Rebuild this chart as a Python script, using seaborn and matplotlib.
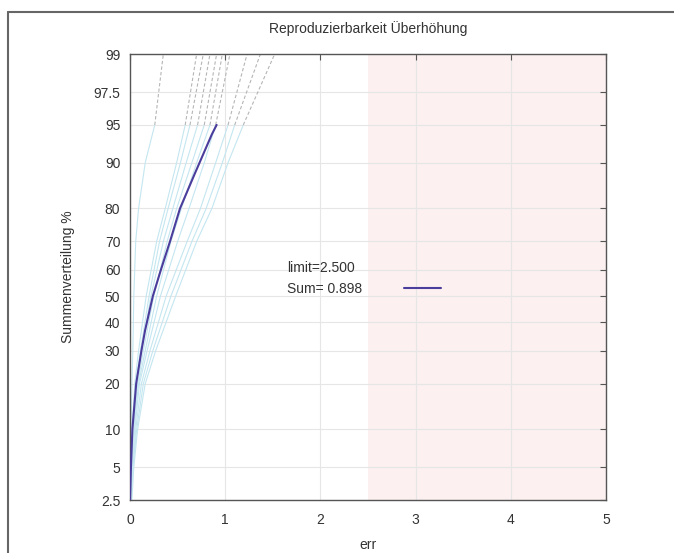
import numpy as np
import pandas as pd
import matplotlib
matplotlib.use("Agg")
import matplotlib.pyplot as plt
import seaborn as sns
from statistics import NormalDist
from matplotlib.lines import Line2D

# ---------------- data ----------------
P_LEVELS = [2.5, 5, 10, 20, 30, 50, 70, 80, 90, 95, 99]
run01 = [0.00, 0.00, 0.01, 0.02, 0.03, 0.04, 0.06, 0.09, 0.16, 0.26, 0.35]
run02 = [0.00, 0.01, 0.02, 0.05, 0.09, 0.17, 0.28, 0.37, 0.49, 0.58, 0.70]
run03 = [0.00, 0.01, 0.03, 0.06, 0.11, 0.20, 0.31, 0.40, 0.53, 0.63, 0.77]
run04 = [0.00, 0.01, 0.03, 0.07, 0.12, 0.22, 0.35, 0.45, 0.59, 0.71, 0.84]
run05 = [0.00, 0.02, 0.04, 0.08, 0.14, 0.25, 0.39, 0.49, 0.65, 0.78, 0.91]
run06 = [0.01, 0.02, 0.04, 0.09, 0.16, 0.28, 0.43, 0.54, 0.70, 0.84, 0.97]
run07 = [0.01, 0.02, 0.05, 0.10, 0.18, 0.32, 0.50, 0.62, 0.78, 0.90, 1.05]
run08 = [0.01, 0.03, 0.06, 0.12, 0.21, 0.38, 0.60, 0.74, 0.90, 1.03, 1.23]
run09 = [0.01, 0.03, 0.07, 0.14, 0.24, 0.43, 0.65, 0.80, 0.97, 1.10, 1.37]
run10 = [0.02, 0.04, 0.08, 0.16, 0.27, 0.48, 0.70, 0.86, 1.03, 1.19, 1.52]
RUNS = [run01, run02, run03, run04, run05, run06, run07, run08, run09, run10]

sum_p = [2.5, 5, 10, 20, 30, 37, 50, 60, 70, 80, 88, 94, 95]
sum_x = [0.00, 0.01, 0.025, 0.065, 0.12, 0.158, 0.24, 0.325, 0.42, 0.525, 0.68, 0.86, 0.91]

Y_TICKS = [2.5, 5, 10, 20, 30, 40, 50, 60, 70, 80, 90, 95, 97.5, 99]
X_TICKS = [0, 1, 2, 3, 4, 5]
LIMIT = 2.5
SUM_VALUE = 0.898
TITLE = "Reproduzierbarkeit Überhöhung"
XLABEL = "err"
YLABEL = "Summenverteilung %"

# ---------------- style ----------------
sns.set_style("white")
plt.rcParams["font.family"] = ["Liberation Sans", "DejaVu Sans"]
TXT = "#333333"

nd = NormalDist()
_ppf = np.vectorize(nd.inv_cdf, otypes=[float])
_cdf = np.vectorize(nd.cdf, otypes=[float])


def fwd(p):
    p = np.clip(np.asarray(p, dtype=float) / 100.0, 1e-9, 1 - 1e-9)
    return _ppf(p)


def inv(z):
    return _cdf(np.asarray(z, dtype=float)) * 100.0


fig = plt.figure(figsize=(6.74, 5.53), dpi=100)
ax = fig.add_axes([130 / 674, 1 - 500 / 553, 476 / 674, 446 / 553])
ax.set_yscale("function", functions=(fwd, inv))

# limit region
ax.axvspan(LIMIT, X_TICKS[-1], color="#fcf0f0", lw=0, zorder=0)

# background runs
for i, r in enumerate(RUNS):
    lo = pd.DataFrame({"x": r[:-1], "p": P_LEVELS[:-1]})
    hi = pd.DataFrame({"x": r[-2:], "p": P_LEVELS[-2:]})
    sns.lineplot(data=lo, x="x", y="p", sort=False, estimator=None, ax=ax,
                 color="#c4e6f0", lw=0.8, label="_nolegend_", zorder=2)
    sns.lineplot(data=hi, x="x", y="p", sort=False, estimator=None, ax=ax,
                 color="#b5b5b5", lw=0.8, ls=(0, (3, 2)), label="_nolegend_", zorder=2)

# summary line
sdf = pd.DataFrame({"x": sum_x, "p": sum_p})
sns.lineplot(data=sdf, x="x", y="p", sort=False, estimator=None, ax=ax,
             color="#4a3d9c", lw=1.5, label=f"Sum= {SUM_VALUE:.3f}", zorder=4)

ax.set_xlim(X_TICKS[0], X_TICKS[-1])
ax.set_ylim(Y_TICKS[0], Y_TICKS[-1])
ax.set_xticks(X_TICKS)
ax.set_xticklabels([f"{v:g}" for v in X_TICKS])
ax.set_yticks(Y_TICKS)
ax.set_yticklabels([f"{v:g}" for v in Y_TICKS])
ax.minorticks_off()

ax.grid(True, color="#e6e6e6", lw=0.8, zorder=1)
ax.set_axisbelow(True)
for s in ax.spines.values():
    s.set_color("#555555")
    s.set_linewidth(1.0)
    s.set_visible(True)
ax.tick_params(axis="both", which="major", direction="in", top=True, right=True,
               length=4, width=0.8, color="#555555", labelsize=10, labelcolor=TXT)
ax.tick_params(axis="x", pad=9)
ax.tick_params(axis="y", pad=7)

ax.set_xlabel(XLABEL, fontsize=10, color=TXT, labelpad=8)
ax.set_ylabel(YLABEL, fontsize=10, color=TXT, labelpad=13)
ax.set_title(TITLE, fontsize=10, color=TXT, pad=15)

handles, labels = ax.get_legend_handles_labels()
leg = ax.legend(handles=handles, labels=labels, title=f"limit={LIMIT:.3f}",
                loc="upper left", bbox_to_anchor=(0.33, 0.535), frameon=False,
                markerfirst=False, alignment="left", fontsize=10, title_fontsize=10,
                handlelength=2.7, handletextpad=3.0, borderpad=0, borderaxespad=0)
for t in leg.get_texts():
    t.set_color(TXT)
leg.get_title().set_color(TXT)

# page frame
fig.add_artist(Line2D([8 / 674, 8 / 674], [0, 1 - 12 / 553], transform=fig.transFigure,
                      color="#666666", lw=1.5))
fig.add_artist(Line2D([8 / 674, 1], [1 - 12 / 553, 1 - 12 / 553], transform=fig.transFigure,
                      color="#666666", lw=1.5))

fig.savefig("out.png", dpi=100)
